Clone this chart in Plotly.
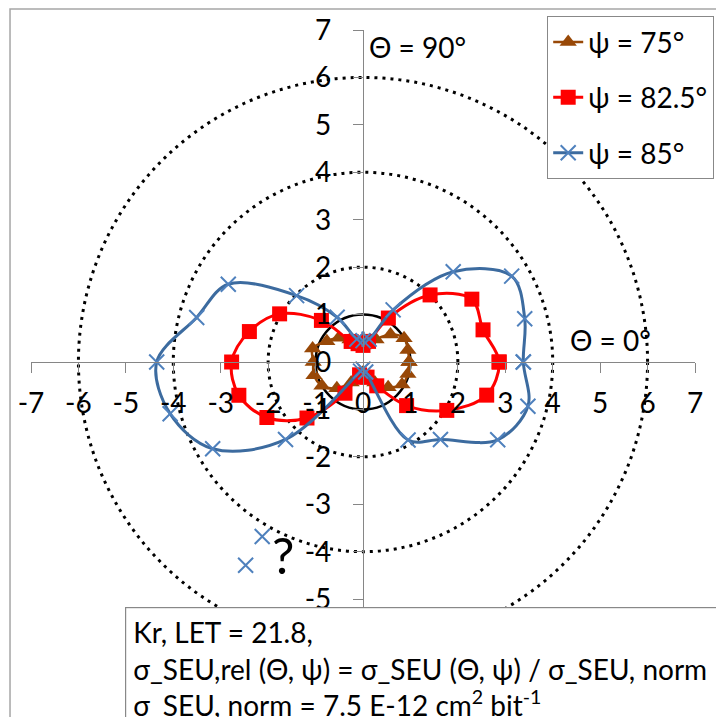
import numpy as np
import plotly.graph_objects as go

# ---------------- data ----------------
theta_deg = [0, 15, 30, 45, 60, 75, 90, 105, 120, 135, 150, 165,
             180, 195, 210, 225, 240, 255, 270, 285, 300, 315, 330, 345]

r_psi75 = [0.97, 0.98, 1.00, 0.82, 0.55, 0.38, 0.35, 0.38, 0.55, 0.72, 0.88, 1.10,
           1.05, 1.07, 1.00, 0.78, 0.50, 0.30, 0.22, 0.30, 0.50, 0.75, 0.95, 0.98]

r_psi825 = [2.87, 2.62, 2.65, 2.00, 1.07, 0.45, 0.35, 0.40, 0.50, 1.24, 2.03, 2.48,
            2.77, 2.71, 2.34, 1.67, 0.76, 0.28, 0.32, 0.33, 0.58, 1.30, 2.04, 2.70]

theta_psi85 = [0, 15, 30, 45, 60, 75, 90, 105, 120, 135, 150, 165,
               180, 195, 210, 225, 255, 270, 285, 300, 315, 330, 345]
r_psi85 = [3.38, 3.53, 3.62, 2.69, 1.27, 0.50, 0.45, 0.50, 1.09, 1.98, 3.28, 3.63,
           4.35, 4.21, 3.66, 2.31, 0.20, 0.15, 0.22, 1.90, 2.31, 3.28, 3.60]

theta_psi85_outliers = [240, 240]
r_psi85_outliers = [4.25, 4.95]

ref_circle_r_dotted = [2, 4, 6]
ref_circle_r_solid = [1]

x_ticks = list(range(-7, 8))
y_ticks = list(range(-5, 8))   # -6 and -7 are hidden behind the note box

labels_series = ["ψ = 75°", "ψ = 82.5°", "ψ = 85°"]
note_lines = ["Kr, LET = 21.8,",
              "σ_SEU,rel (Θ, ψ) = σ_SEU (Θ, ψ) / σ_SEU, norm",
              "σ_SEU, norm = 7.5 E-12 cm<sup>2</sup> bit<sup>-1</sup>"]

FONT = "Lato"
FS = 28


def polar_xy(th, r, close=True):
    th = np.radians(np.asarray(th, dtype=float))
    r = np.asarray(r, dtype=float)
    x = r * np.cos(th)
    y = r * np.sin(th)
    if close:
        x = np.append(x, x[0])
        y = np.append(y, y[0])
    return x, y


fig = go.Figure()

x75, y75 = polar_xy(theta_deg, r_psi75)
x82, y82 = polar_xy(theta_deg, r_psi825)
x85, y85 = polar_xy(theta_psi85, r_psi85)
xo, yo = polar_xy(theta_psi85_outliers, r_psi85_outliers, close=False)

fig.add_trace(go.Scatter(
    x=x75, y=y75, mode="lines+markers", name=labels_series[0],
    legendgroup="a",
    line=dict(color="#984807", width=2.5, shape="spline", smoothing=1.0),
    marker=dict(symbol="triangle-up", size=15, color="#984807")))
fig.add_trace(go.Scatter(
    x=x82, y=y82, mode="lines+markers", name=labels_series[1],
    legendgroup="b",
    line=dict(color="#FF0000", width=3, shape="spline", smoothing=1.0),
    marker=dict(symbol="square", size=15, color="#FF0000")))
fig.add_trace(go.Scatter(
    x=x85, y=y85, mode="lines+markers", name=labels_series[2],
    legendgroup="c",
    line=dict(color="#3C6B9F", width=3, shape="spline", smoothing=1.0),
    marker=dict(symbol="x-thin", size=15, color="#4F81BD",
                line=dict(color="#4F81BD", width=2))))
fig.add_trace(go.Scatter(
    x=xo, y=yo, mode="markers", showlegend=False,
    marker=dict(symbol="x-thin", size=15, color="#4F81BD",
                line=dict(color="#4F81BD", width=2))))

shapes = []
for r in ref_circle_r_dotted:
    shapes.append(dict(type="circle", xref="x", yref="y", x0=-r, x1=r, y0=-r, y1=r,
                       line=dict(color="black", width=3, dash="3px,5px"), layer="below"))
for r in ref_circle_r_solid:
    shapes.append(dict(type="circle", xref="x", yref="y", x0=-r, x1=r, y0=-r, y1=r,
                       line=dict(color="black", width=2.5), layer="below"))
# chart-area border (top / left visible)
shapes.append(dict(type="rect", xref="paper", yref="paper",
                   x0=-0.0316, x1=1.2, y0=-0.3, y1=1.0316,
                   line=dict(color="#A6A6A6", width=1.5), layer="below"))

annotations = [
    dict(x=0.08, y=6.65, xref="x", yref="y", text="Θ = 90°", showarrow=False,
         xanchor="left", yanchor="middle", font=dict(family=FONT, size=FS, color="black")),
    dict(x=4.33, y=0.46, xref="x", yref="y", text="Θ = 0°", showarrow=False,
         xanchor="left", yanchor="middle", font=dict(family=FONT, size=FS, color="black")),
    dict(x=-1.69, y=-4.07, xref="x", yref="y", text="?", showarrow=False,
         xanchor="center", yanchor="middle", font=dict(family=FONT, size=50, color="black")),
    dict(x=(125 - 31) / 664, y=(694 - 607) / 664, xref="paper", yref="paper",
         text="<br>".join(note_lines), showarrow=False, xanchor="left", yanchor="top",
         align="left", valign="top", width=620, height=140,
         bgcolor="white", bordercolor="#888888", borderwidth=1.2, borderpad=7,
         font=dict(family=FONT, size=FS, color="black")),
]

axis_common = dict(
    range=[-7, 7], tickmode="array",
    showgrid=False, zeroline=False, showline=True, linecolor="#868686", linewidth=1.2,
    ticks="outside", ticklen=10, tickcolor="#868686", tickwidth=1.2,
    tickfont=dict(family=FONT, size=FS, color="black"),
    anchor="free", position=0.5, fixedrange=True,
)

fig.update_layout(
    width=716, height=717,
    margin=dict(l=31, r=21, t=30, b=23, autoexpand=False),
    paper_bgcolor="white", plot_bgcolor="white",
    xaxis=dict(**axis_common, tickvals=x_ticks, ticktext=[str(v) for v in x_ticks],
               ticklabelstandoff=6),
    yaxis=dict(**axis_common, tickvals=y_ticks, ticktext=[str(v) for v in y_ticks],
               ticklabelstandoff=16),
    shapes=shapes, annotations=annotations,
    showlegend=True,
    legend=dict(x=(547 - 31) / 664, y=(694 - 16) / 664, xanchor="left", yanchor="top",
                bgcolor="white", bordercolor="#888888", borderwidth=1.2,
                font=dict(family=FONT, size=FS, color="black"),
                traceorder="grouped", tracegroupgap=16, itemwidth=30),
)

fig.write_html("out.html", config={"displayModeBar": False},
               post_script="document.body.style.margin='0';document.body.style.overflow='hidden';")
